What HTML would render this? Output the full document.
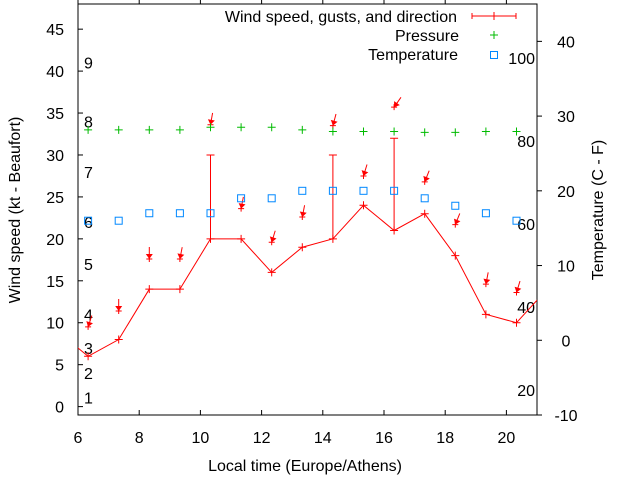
<!DOCTYPE html>
<html><head><meta charset="utf-8"><style>
html,body{margin:0;padding:0;background:#fff}
svg{display:block;font-family:"Liberation Sans",sans-serif}
text{font-size:16px;fill:#000}
</style></head><body>
<svg id="chart" width="640" height="480">
<g id="axes"></g>
<g id="marks"></g>
<g id="legend"></g>
</svg>
<script>
const hours = [6.33,7.33,8.33,9.33,10.33,11.33,12.33,13.33,14.33,15.33,16.33,17.33,18.33,19.33,20.33];
const windSpeed = [6,8,14,14,20,20,16,19,20,24,21,23,18,11,10];
const windEdgeBefore = 9;
const windEdgeAfter = 14;
const gustHours = [10.33,14.33,16.33];
const gustBase = [20,20,21];
const gustValues = [30,30,32];
const pressure = [33,33,33,33,33.3,33.3,33.3,33,32.8,32.8,32.8,32.7,32.7,32.8,32.8];
const temperature = [16,16,17,17,17,19,19,20,20,20,20,19,18,17,16];
const arrowLevel = [9.5,11.4,17.6,17.6,33.6,23.6,19.6,22.6,33.5,27.5,35.7,26.8,21.7,14.6,13.6];
const windDir = [18,0,0,11,10,11,17,11,15,17,35,22,22,11,17];
const xTicks = [6,8,10,12,14,16,18,20];
const yTicks = [0,5,10,15,20,25,30,35,40,45];
const y2Ticks = [-10,0,10,20,30,40];
const beaufortLabels = ["1","2","3","4","5","6","7","8","9"];
const beaufortLevels = [1.1,4,7,11,17,22,28,34,41];
const fahrenheitLabels = ["20","40","60","80","100"];
const fahrenheitValues = [20,40,60,80,100];

const L=78,R=537,T=4,B=415;
const X=v=>L+(v-6)/(21-6)*(R-L);
const Y=v=>B-(v+1)/(48+1)*(B-T);
const Y2=v=>B-(v+10)/55*(B-T);
const NS="http://www.w3.org/2000/svg";
function mk(tag,attrs,parent,txt){const e=document.createElementNS(NS,tag);for(const k in attrs)e.setAttribute(k,attrs[k]);if(txt!==undefined)e.textContent=txt;parent.appendChild(e);return e;}
const axes=document.getElementById('axes'),marks=document.getElementById('marks'),legend=document.getElementById('legend');

let e=mk('rect',{x:L,y:T,width:R-L,height:B-T,fill:'none',stroke:'#000','stroke-width':1},axes);


xTicks.forEach(v=>{const x=X(v);
 e=mk('line',{x1:x,y1:B,x2:x,y2:B-5,stroke:'#000'},axes);
 
 
 e=mk('line',{x1:x,y1:T,x2:x,y2:T-5,stroke:'#000'},axes);
 
 
 e=mk('text',{x:x,y:443,'text-anchor':'middle'},axes,String(v));
 
 
});
yTicks.forEach(v=>{const y=Y(v);
 e=mk('line',{x1:L,y1:y,x2:L+5,y2:y,stroke:'#000'},axes);
 
 
 e=mk('text',{x:64,y:y+6,'text-anchor':'end'},axes,String(v));
 
 
});
y2Ticks.forEach(v=>{const y=Y2(v);
 e=mk('line',{x1:R,y1:y,x2:R+5,y2:y,stroke:'#000'},axes);
 
 
 e=mk('text',{x:566,y:y+6,'text-anchor':'middle'},axes,String(v));
 
 
});
beaufortLabels.forEach((s,i)=>{
 e=mk('text',{x:84,y:Y(beaufortLevels[i])+6},axes,s);
 
 
});
fahrenheitLabels.forEach((s,i)=>{
 const c=(fahrenheitValues[i]-32)*5/9;
 e=mk('text',{x:535,y:Y2(c)+6,'text-anchor':'end'},axes,s);
 
 
});
e=mk('text',{x:305,y:471,'text-anchor':'middle'},axes,'Local time (Europe/Athens)');


e=mk('text',{x:20,y:210,'text-anchor':'middle',transform:'rotate(-90 20 210)'},axes,'Wind speed (kt - Beaufort)');


e=mk('text',{x:603,y:210,'text-anchor':'middle',transform:'rotate(-90 603 210)'},axes,'Temperature (C - F)');



mk('clipPath',{id:'clip'},marks);
mk('rect',{x:L,y:T,width:R-L,height:B-T},document.getElementById('clip'));
const pts=[[hours[0]-1,windEdgeBefore]].concat(hours.map((h,i)=>[h,windSpeed[i]])).concat([[hours[hours.length-1]+1,windEdgeAfter]]);
e=mk('polyline',{points:pts.map(p=>X(p[0])+','+Y(p[1])).join(' '),fill:'none',stroke:'#f00','stroke-width':1,'clip-path':'url(#clip)'},marks);


hours.forEach((h,i)=>{const x=X(h),y=Y(windSpeed[i]);
 e=mk('path',{d:`M${x-4},${y}h8M${x},${y-4}v8`,stroke:'#f00'},marks);
 
 
});
gustHours.forEach((h,i)=>{const x=X(h),y1=Y(gustBase[i]),y2=Y(gustValues[i]);
 e=mk('path',{d:`M${x},${y1}V${y2}M${x-4},${y2}h8`,stroke:'#f00'},marks);
 
 
});
hours.forEach((h,i)=>{const x=X(h),y=Y(arrowLevel[i]);const a=windDir[i]*Math.PI/180;
 const tx=x+12*Math.sin(a),ty=y-12*Math.cos(a);
 const ux=(x-tx)/12,uy=(y-ty)/12,px=-uy,py=ux;
 const bx=x-ux*5,by=y-uy*5;
 const g=mk('g',{},marks);
 
 
 mk('line',{x1:tx,y1:ty,x2:x,y2:y,stroke:'#f00'},g);
 mk('polygon',{points:`${x},${y} ${bx+px*3.5},${by+py*3.5} ${bx-px*3.5},${by-py*3.5}`,fill:'#f00'},g);
 mk('path',{d:`M${x-3},${y}h6M${x},${y-3}v6`,stroke:'#f00'},g);
});
hours.forEach((h,i)=>{const x=X(h),y=Y(pressure[i]);
 e=mk('path',{d:`M${x-4},${y}h8M${x},${y-4}v8`,stroke:'#0b0'},marks);
 
 
});
hours.forEach((h,i)=>{const x=X(h),y=Y2(temperature[i]);
 e=mk('rect',{x:x-3.5,y:y-3.5,width:7,height:7,fill:'none',stroke:'#08f'},marks);
 
 
});

e=mk('text',{x:457,y:22,'text-anchor':'end'},legend,'Wind speed, gusts, and direction');


e=mk('path',{d:'M472,16H516M472,13v6M516,13v6M494,12v8',stroke:'#f00'},legend);


e=mk('text',{x:459,y:41,'text-anchor':'end'},legend,'Pressure');


e=mk('path',{d:'M490,35h8M494,31v8',stroke:'#0b0'},legend);


e=mk('text',{x:458,y:60,'text-anchor':'end'},legend,'Temperature');


e=mk('rect',{x:490.5,y:51.5,width:7,height:7,fill:'none',stroke:'#08f'},legend);


</script>
</body></html>
